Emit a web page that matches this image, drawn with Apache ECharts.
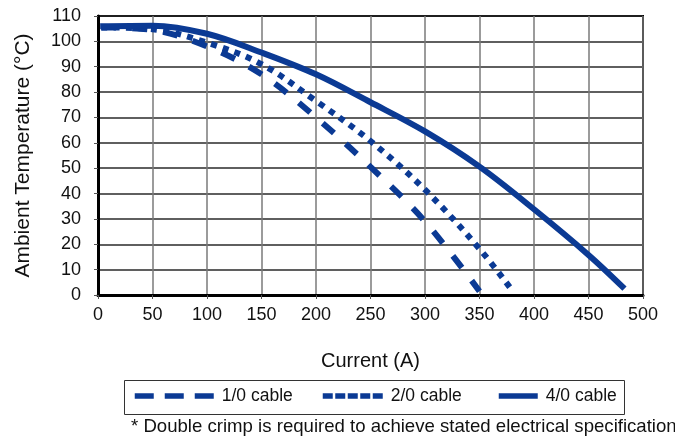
<!DOCTYPE html>
<html>
<head>
<meta charset="utf-8">
<script src="https://cdn.jsdelivr.net/npm/echarts@6/dist/echarts.min.js"></script>
<style>html,body{margin:0;padding:0;background:#fff}#c{width:675px;height:440px}</style>
</head>
<body>
<div id="c"></div>
<script>
// Data
var seriesNames = ['1/0 cable', '2/0 cable', '4/0 cable'];
var cable10Current = [3, 50, 100, 150, 200, 250, 300, 350];
var cable10Temp    = [105.5, 104.5, 98, 87, 70, 50.5, 29, 1.5];
var cable20Current = [3, 50, 100, 150, 200, 250, 300, 350, 381];
var cable20Temp    = [105.5, 104.8, 99.5, 91, 76.5, 60.7, 41.5, 18.2, 1.2];
var cable40Current = [2, 50, 100, 150, 200, 250, 300, 350, 400, 450, 483];
var cable40Temp    = [106, 106.2, 103, 95.6, 87, 76, 64.5, 50.6, 33.8, 15.8, 2.5];
var xTicks = [0, 50, 100, 150, 200, 250, 300, 350, 400, 450, 500];
var yTicks = [0, 10, 20, 30, 40, 50, 60, 70, 80, 90, 100, 110];
var xTitle = 'Current (A)';
var yTitle = 'Ambient Temperature (°C)';
var footnote = '* Double crimp is required to achieve stated electrical specification';

function pairs(xs, ys) { return xs.map(function (x, i) { return [x, ys[i]]; }); }

var FONT = "'Liberation Sans Narrow', 'Arial Narrow', 'Liberation Sans', Arial, sans-serif";
var BLUE = '#0b3a94';
var dashTypes = [[15, 16], [6, 6.4], 'solid'];

var chart = echarts.init(document.getElementById('c'), null, {renderer: 'canvas'});
var dataSets = [pairs(cable10Current, cable10Temp), pairs(cable20Current, cable20Temp), pairs(cable40Current, cable40Temp)];

var legendDefs = [
  {left: 132, itemWidth: 79, type: [19, 11]},
  {left: 320, itemWidth: 60, type: [10, 2.5]},
  {left: 496, itemWidth: 39, type: 'solid'}
];

chart.setOption({
  animation: false,
  textStyle: {fontFamily: FONT},
  grid: {left: 98, right: 32, top: 16, bottom: 145, show: true, borderColor: '#000', borderWidth: 2, backgroundColor: 'transparent'},
  xAxis: {
    type: 'value', min: xTicks[0], max: xTicks[xTicks.length - 1], interval: 50,
    name: xTitle, nameLocation: 'middle', nameGap: 56,
    nameTextStyle: {fontFamily: FONT, fontSize: 20, color: '#111'},
    axisLine: {show: true, onZero: false, lineStyle: {color: '#000', width: 3}},
    axisTick: {show: true, length: 4, lineStyle: {color: '#555', width: 1}},
    axisLabel: {fontFamily: FONT, fontSize: 18, color: '#111', margin: 11},
    splitLine: {show: true, lineStyle: {color: '#7a7a7a', width: 1.5}}
  },
  yAxis: {
    type: 'value', min: yTicks[0], max: yTicks[yTicks.length - 1], interval: 10,
    name: yTitle, nameLocation: 'middle', nameGap: 64, nameRotate: 90,
    nameTextStyle: {fontFamily: FONT, fontSize: 21, color: '#111'},
    axisLine: {show: true, lineStyle: {color: '#000', width: 3}},
    axisTick: {show: true, length: 4, lineStyle: {color: '#555', width: 1}},
    axisLabel: {fontFamily: FONT, fontSize: 18, color: '#111', margin: 17},
    splitLine: {show: true, lineStyle: {color: '#2a2a2a', width: 1.5}}
  },
  legend: legendDefs.map(function (d, i) {
    return {
      data: [seriesNames[i]], left: d.left, top: 387, itemWidth: d.itemWidth, itemHeight: 6,
      itemGap: 0, padding: 0,
      textStyle: {fontFamily: FONT, fontSize: 17.5, color: '#111', padding: [0, 0, 0, 3]},
      itemStyle: {color: BLUE, opacity: 0}, lineStyle: {color: BLUE, width: 5.5, type: d.type, cap: 'butt'}
    };
  }),
  graphic: [
    {type: 'rect', shape: {x: 124.5, y: 380.5, width: 500, height: 34}, style: {fill: 'none', stroke: '#333', lineWidth: 1}, z: 0},
    {type: 'text', left: 131, top: 417, style: {text: footnote, fontFamily: FONT, fontSize: 18.6, fill: '#111'}}
  ],
  series: dataSets.map(function (d, i) {
    return {
      name: seriesNames[i], type: 'line', data: d, smooth: 0.35, symbol: 'none',
      lineStyle: {color: BLUE, width: 6, type: dashTypes[i], cap: 'butt'},
      itemStyle: {color: BLUE}, z: 3 + i
    };
  })
});
</script>
</body>
</html>
